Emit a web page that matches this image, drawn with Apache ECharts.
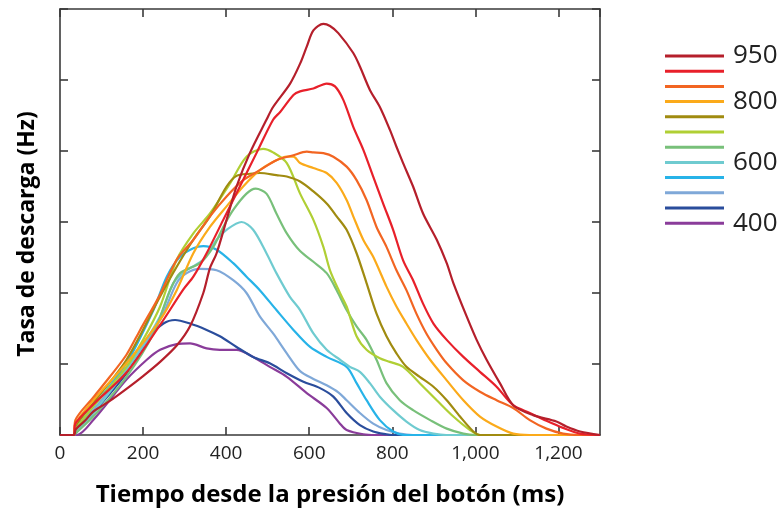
<!DOCTYPE html>
<html><head><meta charset="utf-8">
<script src="https://cdn.jsdelivr.net/npm/echarts@6/dist/echarts.min.js"></script>
<style>html,body{margin:0;padding:0;background:#fff}#c{width:783px;height:512px}</style>
</head><body><div id="c"></div>
<script>
// Series names (ms durations) and which ones carry a legend label
const seriesNames = ['950','900','850','800','750','700','650','600','550','500','450','400'];
const labelledNames = ['950','800','600','400'];
const seriesColors = ['#b51f2b','#e8202a','#f26522','#fbaa1a','#a08b10','#b0cf34','#78c07a','#6fcbd0','#27b3e8','#7fa8d8','#2a4d9c','#8a3c9a'];
const xTicks = [0,200,400,600,800,1000,1200];

// [time ms, firing rate]
const s950 = [[0,0],[33,0],[38,0.8],[60,2.0],[80,3.3],[120,4.8],[160,6.5],[200,8.3],[241,10.3],[281,12.6],[313,15.3],[345,20.0],[361,23.5],[377,25.6],[401,30.3],[425,35.0],[457,39.7],[497,44.4],[513,46.2],[554,49.5],[578,52.3],[594,54.7],[610,57.0],[634,57.9],[650,57.6],[670,56.6],[706,53.8],[722,51.9],[746,48.6],[770,46.2],[794,43.0],[810,40.6],[826,38.3],[850,35.0],[874,31.2],[907,27.5],[931,24.2],[947,21.4],[979,16.7],[1003,13.4],[1027,10.6],[1059,7.3],[1091,4.2],[1139,2.8],[1195,1.9],[1219,1.2],[1252,0.5],[1300,0]];
const s900 = [[0,0],[33,0],[37,1.6],[80,4.3],[160,8.8],[241,15.5],[297,20.5],[321,22.3],[353,25.6],[393,30.3],[433,35.0],[473,39.7],[513,44.4],[530,45.5],[562,47.9],[578,48.4],[610,48.8],[642,49.5],[662,49.1],[682,47.2],[706,43.4],[730,40.2],[754,36.4],[778,32.6],[802,28.9],[826,24.6],[850,21.8],[874,18.5],[899,15.7],[931,13.4],[971,11.0],[1011,8.9],[1051,6.8],[1091,4.2],[1131,3.1],[1171,2.0],[1211,1.0],[1252,0.2],[1300,0]];
const s850 = [[0,0],[33,0],[37,2.1],[80,5.3],[120,8.2],[160,11.3],[193,14.8],[241,19.8],[281,24.7],[321,27.5],[361,30.8],[401,33.6],[441,35.9],[481,37.3],[521,38.7],[562,39.4],[594,39.9],[610,39.8],[634,39.7],[658,39.2],[690,37.8],[714,35.9],[738,33.1],[762,29.3],[786,26.5],[810,23.2],[834,20.4],[858,17.1],[882,14.3],[907,12.0],[931,10.1],[971,7.7],[1011,6.1],[1051,4.9],[1091,3.8],[1131,2.1],[1171,0.9],[1211,0.2],[1250,0],[1300,0]];
const s800 = [[0,0],[33,0],[37,1.6],[80,4.9],[160,10.1],[241,16.2],[281,20.4],[321,25.6],[361,29.3],[401,32.2],[441,35.0],[481,37.3],[521,38.7],[546,39.2],[562,39.2],[578,38.3],[610,37.6],[642,36.9],[666,35.5],[690,33.1],[706,30.8],[730,27.5],[754,25.1],[786,20.9],[810,18.1],[834,15.7],[858,13.4],[891,10.6],[931,7.7],[971,4.9],[1011,2.6],[1051,1.2],[1091,0.2],[1130,0],[1300,0]];
const s750 = [[0,0],[33,0],[37,1.2],[80,4.5],[160,10.6],[241,19.5],[281,23.7],[321,27.5],[361,30.8],[401,35.0],[425,36.5],[457,36.8],[481,36.9],[521,36.6],[546,36.4],[578,35.7],[610,34.3],[642,32.6],[666,30.8],[690,28.9],[714,25.6],[738,21.4],[762,17.1],[786,13.9],[810,11.5],[834,9.6],[866,8.2],[899,6.8],[931,4.9],[963,2.6],[995,0.5],[1011,0],[1300,0]];
const s700 = [[0,0],[33,0],[37,0.7],[80,4.0],[160,9.6],[200,13.4],[241,18.1],[281,24.7],[321,28.4],[361,31.2],[409,35.4],[449,39.2],[489,40.3],[513,39.8],[546,38.3],[578,34.0],[610,30.3],[634,26.5],[650,23.2],[674,20.0],[690,18.1],[714,13.9],[738,12.0],[770,10.8],[794,10.3],[826,9.6],[866,7.3],[907,4.9],[947,2.6],[987,0.7],[1011,0],[1300,0]];
const s650 = [[0,0],[33,0],[37,0.2],[80,2.6],[160,8.2],[225,14.3],[265,20.4],[289,22.8],[337,24.2],[369,26.5],[393,29.3],[417,31.7],[449,34.0],[471,34.7],[497,34.0],[521,31.2],[546,28.4],[578,25.9],[610,24.4],[642,22.8],[666,20.4],[690,17.6],[714,15.3],[738,13.4],[762,10.6],[786,7.3],[818,4.9],[850,3.5],[891,2.1],[931,0.9],[971,0.2],[1000,0],[1300,0]];
const s600 = [[0,0],[33,0],[37,0.2],[80,3.1],[160,9.2],[241,16.7],[273,21.4],[305,23.2],[345,24.7],[377,27.5],[401,28.9],[437,30.0],[465,28.9],[497,25.6],[521,22.8],[553,19.5],[578,17.6],[610,14.3],[642,12.0],[674,10.6],[698,9.6],[722,8.9],[746,7.3],[770,5.4],[802,3.5],[834,1.9],[866,0.7],[899,0.2],[930,0],[1300,0]];
const s550 = [[0,0],[33,0],[37,0.7],[80,4.0],[160,10.1],[225,17.6],[257,22.3],[289,25.1],[321,26.3],[345,26.6],[377,26.1],[417,24.2],[449,22.3],[481,20.4],[521,17.6],[562,14.8],[602,12.4],[642,11.0],[690,9.6],[714,7.3],[738,4.9],[770,2.1],[802,0.5],[830,0],[1300,0]];
const s500 = [[0,0],[33,0],[37,0.5],[80,3.5],[160,9.2],[241,16.2],[281,21.4],[305,22.8],[337,23.4],[377,23.2],[417,21.8],[449,20.0],[481,16.7],[513,14.3],[546,11.5],[578,9.0],[610,7.9],[642,7.0],[670,6.0],[690,4.9],[722,3.1],[754,1.6],[786,0.7],[818,0.2],[850,0],[1300,0]];
const s450 = [[0,0],[33,0],[37,0.2],[80,3.1],[160,8.7],[217,13.9],[249,15.7],[277,16.2],[313,15.7],[353,14.8],[385,13.9],[425,12.4],[465,11.0],[505,10.1],[546,8.7],[586,7.5],[626,6.6],[658,5.4],[690,3.1],[722,1.4],[754,0.5],[786,0.1],[800,0],[1300,0]];
const s400 = [[0,0],[40,0],[80,2.1],[160,7.8],[209,10.6],[241,12.0],[281,12.8],[313,12.9],[353,12.2],[385,12.0],[425,12.0],[465,11.0],[505,9.6],[546,8.2],[594,5.9],[642,3.8],[674,1.6],[690,0.7],[730,0.1],[760,0],[1300,0]];

const seriesData = [s950,s900,s850,s800,s750,s700,s650,s600,s550,s500,s450,s400];

const chart = echarts.init(document.getElementById('c'), null, {renderer:'canvas'});
const frame = {lineStyle:{color:'#3a3a3a', width:1.6}};
const tickIn = {show:true, inside:true, length:8, lineStyle:{color:'#3a3a3a', width:1.6}};
const FONT = '"Open Sans", sans-serif';

const series = seriesNames.map((n,i)=>({
  name:n, type:'line', data:seriesData[i], smooth:0.3, showSymbol:false, symbol:'none',
  lineStyle:{color:seriesColors[i], width:2.2}, itemStyle:{color:seriesColors[i]},
  z: 2 + (seriesNames.length - i), animation:false
}));

chart.setOption({
  animation:false,
  grid:{left:60, right:183, top:9, bottom:77, containLabel:false},
  legend:{
    data:seriesNames, orient:'vertical', left:660, top:38, icon:'rect',
    itemWidth:59, itemHeight:3, itemGap:-10.8, selectedMode:false,
    formatter:(n)=> labelledNames.includes(n) ? n : ' ',
    textStyle:{fontSize:26, color:'#222', fontFamily:FONT, padding:[0,0,0,4]}
  },
  xAxis:[
    {type:'value', position:'bottom', min:0, max:1300, interval:200,
     axisLine:{show:true, onZero:false, ...frame}, axisTick:tickIn, splitLine:{show:false},
     axisLabel:{show:true, fontSize:19, color:'#222', fontFamily:FONT, margin:9, showMaxLabel:false,
       formatter:(v)=> xTicks.includes(v) ? v.toLocaleString('en-US') : ''},
     name:'Tiempo desde la presión del botón (ms)', nameLocation:'middle', nameGap:48,
     nameTextStyle:{fontSize:24, fontWeight:'bold', color:'#000', fontFamily:FONT}},
    {type:'value', position:'top', min:0, max:1300, interval:200,
     axisLine:{show:true, onZero:false, ...frame}, axisTick:tickIn, splitLine:{show:false},
     axisLabel:{show:false}}
  ],
  yAxis:[
    {type:'value', position:'left', min:0, max:60, interval:10,
     axisLine:{show:true, onZero:false, ...frame}, axisTick:tickIn, splitLine:{show:false},
     axisLabel:{show:false},
     name:'Tasa de descarga (Hz)', nameLocation:'middle', nameGap:21,
     nameTextStyle:{fontSize:23, fontWeight:'bold', color:'#000', fontFamily:FONT, padding:[0,24,0,0]}},
    {type:'value', position:'right', min:0, max:60, interval:10,
     axisLine:{show:true, onZero:false, ...frame}, axisTick:tickIn, splitLine:{show:false},
     axisLabel:{show:false}}
  ],
  series: series
});
</script></body></html>
